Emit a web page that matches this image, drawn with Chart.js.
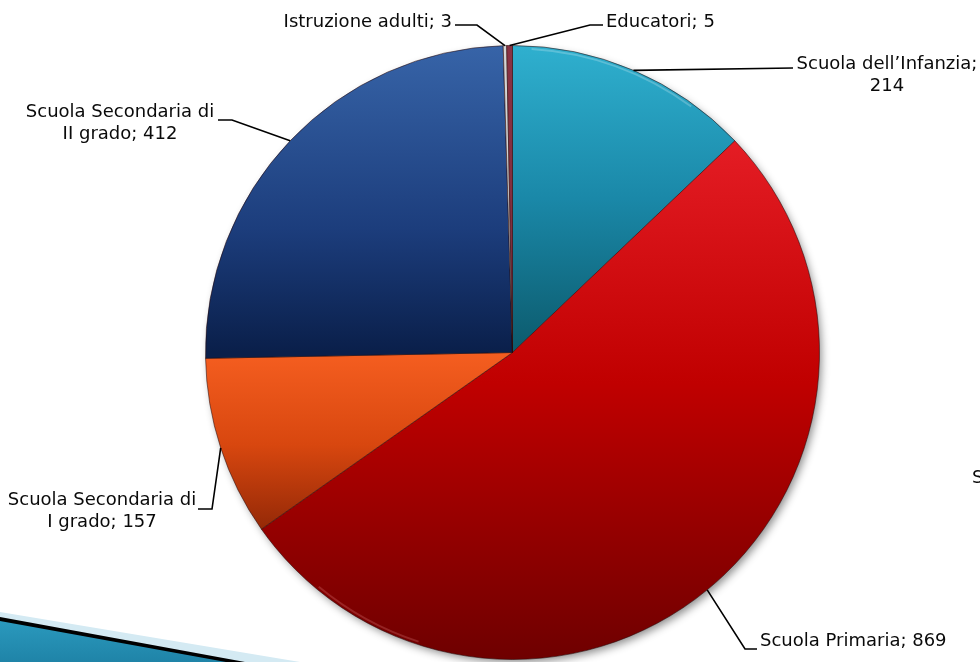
<!DOCTYPE html>
<html>
<head>
<meta charset="utf-8">
<script src="https://cdn.jsdelivr.net/npm/chart.js@4"></script>
<style>
html,body{margin:0;padding:0;background:#fff;}
#wrap{width:980px;height:662px;position:relative;}
</style>
</head>
<body>
<div id="wrap"><canvas id="c" width="980" height="662"></canvas></div>
<script>
// ---- data ----
const categories = ["Scuola dell\u2019Infanzia", "Scuola Primaria", "Scuola Secondaria di I grado", "Scuola Secondaria di II grado", "Istruzione adulti", "Educatori"];
const values = [214, 869, 157, 412, 3, 5];
const labelLines = [
  ["Scuola dell\u2019Infanzia;", "214"],
  ["Scuola Primaria; 869"],
  ["Scuola Secondaria di", "I grado; 157"],
  ["Scuola Secondaria di", "II grado; 412"],
  ["Istruzione adulti; 3"],
  ["Educatori; 5"]
];

// ---- styles ----
const gradStops = [
  [[0.0, "#2fb0cf"], [0.25, "#1a88a8"], [0.5, "#0c5a6c"]],
  [[0.15, "#e51d25"], [0.55, "#c00000"], [1.0, "#6e0000"]],
  [[0.5, "#f55e20"], [0.65, "#d8470f"], [0.8, "#8e2606"]],
  [[0.0, "#3764a8"], [0.3, "#1c3d7c"], [0.5, "#0a1f4a"]],
  [[0, "#d6d6d6"], [1, "#bdbdbd"]],
  [[0, "#8a3344"], [1, "#6b2030"]]
];
// label text placement (align, x, y of first line) and leader elbow points
const labelLayout = [
  {align: "center", x: 887, y: 64, path: [[793, 68]]},
  {align: "left", x: 760, y: 641, path: [[745, 649], [757, 649]]},
  {align: "center", x: 102, y: 500, path: [[212, 509], [198, 509]]},
  {align: "center", x: 120, y: 112, path: [[232, 120], [218, 120]]},
  {align: "right", x: 452, y: 22, path: [[477, 25], [455, 25]]},
  {align: "left", x: 606, y: 22, path: [[590, 25], [603, 25]]}
];
const FONT = '18px "DejaVu Sans", Verdana, sans-serif';

function makeGrad(ctx, area, stops) {
  const g = ctx.createLinearGradient(0, area.top, 0, area.bottom);
  stops.forEach(s => g.addColorStop(s[0], s[1]));
  return g;
}

const decoPlugin = {
  id: "deco",
  beforeDraw(chart) {
    const ctx = chart.ctx;
    ctx.save();
    ctx.fillStyle = "#fff";
    ctx.fillRect(0, 0, chart.width, chart.height);
    // slide decoration bottom-left
    ctx.beginPath();
    ctx.moveTo(0, 612); ctx.lineTo(300, 662); ctx.lineTo(0, 662); ctx.closePath();
    ctx.fillStyle = "#d4eaf3"; ctx.fill();
    ctx.beginPath();
    ctx.moveTo(0, 617); ctx.lineTo(245, 662); ctx.lineTo(0, 662); ctx.closePath();
    ctx.fillStyle = "#000"; ctx.fill();
    ctx.beginPath();
    ctx.moveTo(0, 621); ctx.lineTo(226, 662); ctx.lineTo(0, 662); ctx.closePath();
    const g = ctx.createLinearGradient(0, 615, 0, 662);
    g.addColorStop(0, "#2c9cc0"); g.addColorStop(1, "#1f84a8");
    ctx.fillStyle = g; ctx.fill();
    ctx.restore();
  },
  beforeDatasetsDraw(chart) {
    const meta = chart.getDatasetMeta(0);
    const a = meta.data[0];
    if (!a) return;
    const ctx = chart.ctx;
    ctx.save();
    ctx.beginPath();
    ctx.arc(a.x, a.y, a.outerRadius - 1, 0, Math.PI * 2);
    ctx.shadowColor = "rgba(0,0,0,0.45)";
    ctx.shadowBlur = 9;
    ctx.shadowOffsetX = 3;
    ctx.shadowOffsetY = 4;
    ctx.fillStyle = "#fff";
    ctx.fill();
    ctx.restore();
  },
  afterDatasetsDraw(chart) {
    const meta = chart.getDatasetMeta(0);
    const ctx = chart.ctx;
    ctx.save();
    // subtle bevel highlight on the rim
    const a0 = meta.data[0];
    ctx.beginPath();
    ctx.arc(a0.x, a0.y, a0.outerRadius - 3, -Math.PI * 0.48, -Math.PI * 0.3);
    ctx.strokeStyle = "rgba(255,255,255,0.22)";
    ctx.lineWidth = 2;
    ctx.stroke();
    ctx.beginPath();
    ctx.arc(a0.x, a0.y, a0.outerRadius - 3, Math.PI * 0.6, Math.PI * 0.72);
    ctx.strokeStyle = "rgba(255,160,160,0.22)";
    ctx.stroke();

    ctx.font = FONT;
    ctx.textBaseline = "middle";
    ctx.fillStyle = "#0a0a0a";
    ctx.strokeStyle = "#000";
    ctx.lineWidth = 1.6;
    meta.data.forEach((arc, i) => {
      const mid = (arc.startAngle + arc.endAngle) / 2;
      const ax = arc.x + Math.cos(mid) * arc.outerRadius;
      const ay = arc.y + Math.sin(mid) * arc.outerRadius;
      const L = labelLayout[i];
      ctx.beginPath();
      ctx.moveTo(ax, ay);
      L.path.forEach(p => ctx.lineTo(p[0], p[1]));
      ctx.stroke();
      ctx.textAlign = L.align;
      labelLines[i].forEach((t, k) => ctx.fillText(t, L.x, L.y + k * 22));
    });
    // cut-off label at the right edge of the slide
    ctx.textAlign = "left";
    ctx.fillText("S", 972, 478);
    ctx.restore();
  }
};

new Chart(document.getElementById("c"), {
  type: "pie",
  data: {
    labels: categories,
    datasets: [{
      data: values,
      backgroundColor: (ctx) => {
        const area = ctx.chart.chartArea;
        const stops = gradStops[ctx.dataIndex];
        if (!area) return stops[0][1];
        return makeGrad(ctx.chart.ctx, area, stops);
      },
      borderColor: "rgba(40,10,10,0.55)",
      borderWidth: 1
    }]
  },
  options: {
    responsive: false,
    animation: false,
    layout: {padding: {left: 205, right: 160, top: 45, bottom: 2}},
    plugins: {legend: {display: false}, tooltip: {enabled: false}}
  },
  plugins: [decoPlugin]
});
</script>
</body>
</html>
